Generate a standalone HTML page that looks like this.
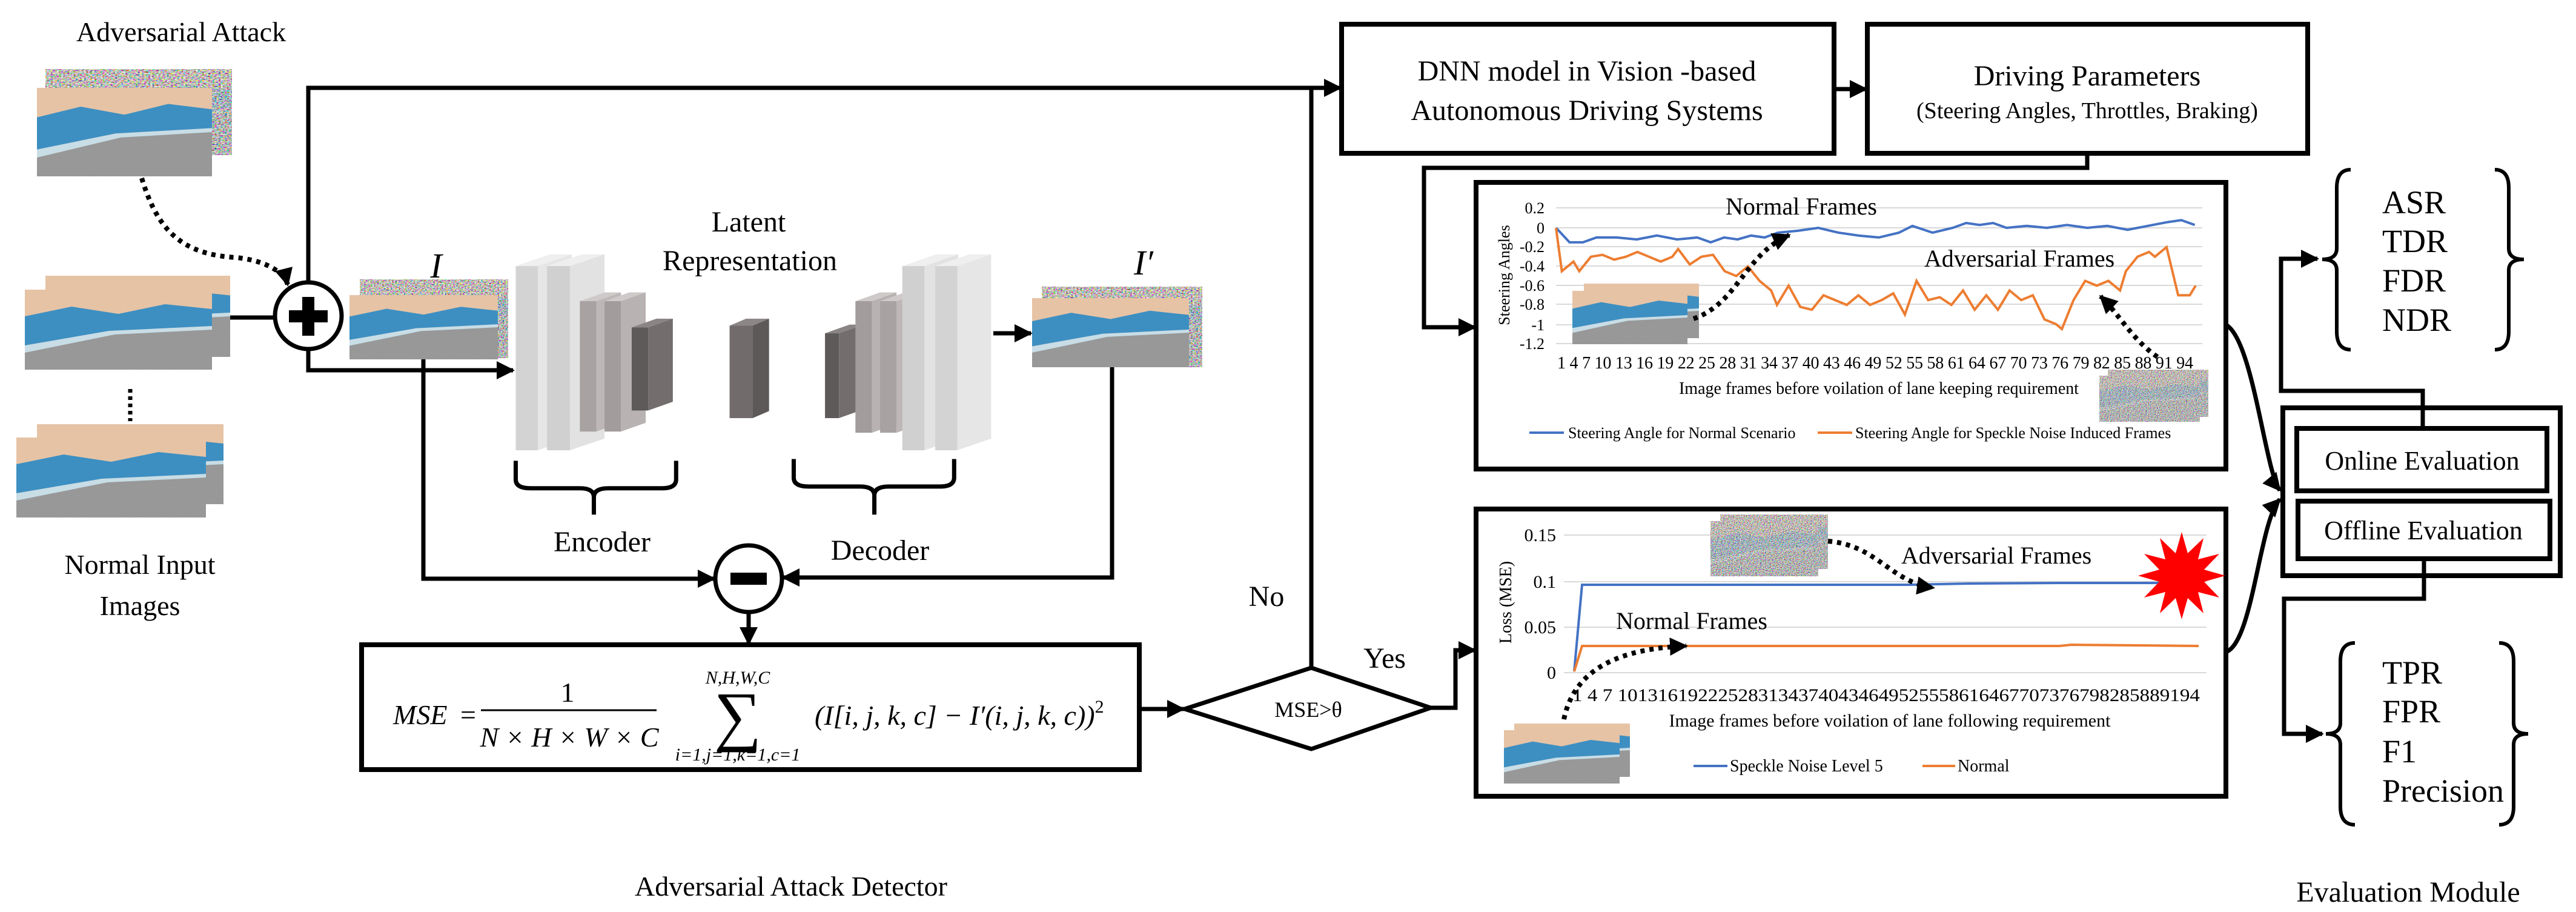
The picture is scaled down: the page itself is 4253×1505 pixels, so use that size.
<!DOCTYPE html>
<html><head><meta charset="utf-8"><style>
html,body{margin:0;padding:0;background:#fff;}
svg{display:block;}
svg, svg text{font-family:"Liberation Serif","Noto Serif CJK SC","DejaVu Serif",serif !important;}
text{fill:#000;}
</style></head><body>
<svg width="4253" height="1505" viewBox="0 0 4253 1505" xmlns="http://www.w3.org/2000/svg" font-family="Liberation Serif, Noto Serif CJK SC, DejaVu Serif, serif">
<defs>
<marker id="a" markerUnits="userSpaceOnUse" markerWidth="30" markerHeight="30" viewBox="0 0 10 10" refX="9" refY="5" orient="auto"><path d="M0,0 L10,5 L0,10 z" fill="#000"/></marker>
<filter id="nf" x="0" y="0" width="100%" height="100%"><feTurbulence type="fractalNoise" baseFrequency="0.9" numOctaves="1" seed="3"/><feColorMatrix type="matrix" values="2.2 0 0 0 -0.6  0 2.2 0 0 -0.6  0 0 2.2 0 -0.6  0 0 0 0 1"/></filter>
<filter id="gf" x="0" y="0" width="100%" height="100%"><feTurbulence type="fractalNoise" baseFrequency="1.2" numOctaves="1" seed="7"/><feColorMatrix type="matrix" values="0 0 0 0 0.3  0 0 0 0 0.3  0 0 0 0 0.3  1.2 0 0 0 -0.2"/></filter>
<symbol id="rd" viewBox="0 0 100 66" preserveAspectRatio="none">
<rect width="100" height="66" fill="#9a9a9a"/>
<rect width="100" height="66" filter="url(#gf)"/>
<rect width="100" height="24" fill="#e6c3a5"/>
<polygon points="0,22 25,14 50,20 75,12 100,16 100,30 45,34 0,46" fill="#3d8fc2"/>
<polygon points="0,46 45,34 100,30 100,33 48,37 0,52" fill="#c8dde6"/>
</symbol>
<symbol id="nz" viewBox="0 0 100 66" preserveAspectRatio="none">
<use href="#rd" width="100" height="66"/>
<rect width="100" height="66" filter="url(#nf)" opacity="0.85"/>
</symbol>
</defs>

<text x="299" y="68" font-size="46" text-anchor="middle">Adversarial Attack</text>
<text x="231" y="947" font-size="46" text-anchor="middle">Normal Input</text>
<text x="231" y="1015" font-size="46" text-anchor="middle">Images</text>

<use href="#nz" x="75" y="114" width="308" height="142"/>
<use href="#rd" x="61" y="145" width="289" height="146"/>
<use href="#rd" x="75" y="455" width="305" height="134"/>
<use href="#rd" x="41" y="478" width="309" height="132"/>
<line x1="215" y1="642" x2="215" y2="695" stroke="#000" stroke-width="7" stroke-dasharray="6 6"/>
<use href="#rd" x="61" y="700" width="308" height="132"/>
<use href="#rd" x="27" y="722" width="313" height="132"/>
<use href="#nz" x="594" y="461" width="245" height="130"/>
<use href="#rd" x="577" y="487" width="245" height="106"/>
<use href="#nz" x="1720" y="473" width="265" height="133"/>
<use href="#rd" x="1704" y="492" width="259" height="114"/>
<text x="720" y="458" font-size="58" font-style="italic" text-anchor="middle">I</text>
<text x="1888" y="453" font-size="58" font-style="italic" text-anchor="middle">I′</text>

<g fill="none" stroke="#000" stroke-width="7">
<line x1="380" y1="524" x2="454" y2="524"/>
<path d="M509,466 V145 H2213" marker-end="url(#a)"/>
<path d="M2165,1100 V145"/>
<path d="M234,294 C260,380 300,420 390,425 C440,430 470,450 475,470" stroke-width="8" stroke-dasharray="7 8" marker-end="url(#a)"/>
<path d="M509,576 V611 H847" marker-end="url(#a)"/>
<path d="M699,593 V955 H1179" marker-end="url(#a)"/>
<path d="M1836,606 V953 H1293" marker-end="url(#a)"/>
<path d="M1236,1010 V1062" marker-end="url(#a)"/>
<path d="M1881,1170 H1954" marker-end="url(#a)"/>
<path d="M1640,550 H1702" marker-end="url(#a)"/>
<path d="M2362,1168 H2403 V1073 H2435" marker-end="url(#a)"/>
<circle cx="509" cy="521" r="55" fill="#fff"/>
<circle cx="1236" cy="955" r="55" fill="#fff"/>
<rect x="597" y="1064" width="1284" height="206" stroke-width="8"/>
<polygon points="1956,1170 2165,1102 2362,1168 2165,1236" fill="#fff"/>
</g>
<rect x="477" y="512" width="64" height="20" fill="#000"/>
<rect x="499" y="490" width="20" height="64" fill="#000"/>
<rect x="1206" y="945" width="60" height="20" fill="#000"/>

<g transform="scale(1.358 0.965)" stroke="none">
<g><polygon points="627,455 668,435 695,435 654,455" fill="#efefef"/><rect x="627" y="455" width="27" height="315" fill="#d3d3d3"/><polygon points="654,455 695,435 695,750 654,770" fill="#e6e6e6"/></g>
<g><polygon points="665,455 707,435 735,435 693,455" fill="#efefef"/><rect x="665" y="455" width="28" height="315" fill="#d0d0d0"/><polygon points="693,455 735,435 735,750 693,770" fill="#e2e2e2"/></g>
<g><polygon points="705,515 735,500 755,500 725,515" fill="#cfc9c9"/><rect x="705" y="515" width="20" height="223" fill="#a8a2a2"/><polygon points="725,515 755,500 755,723 725,738" fill="#bdb7b7"/></g>
<g><polygon points="735,515 765,500 785,500 755,515" fill="#cfc9c9"/><rect x="735" y="515" width="20" height="223" fill="#a29c9c"/><polygon points="755,515 785,500 785,723 755,738" fill="#b8b2b2"/></g>
<g><polygon points="768,560 798,545 818,545 788,560" fill="#8a8484"/><rect x="768" y="560" width="20" height="142" fill="#5e5a5a"/><polygon points="788,560 818,545 818,687 788,702" fill="#736d6d"/></g>
<g><polygon points="887,557 907,545 935,545 915,557" fill="#8d8686"/><rect x="887" y="557" width="28" height="158" fill="#716b6b"/><polygon points="915,557 935,545 935,703 915,715" fill="#5e5959"/></g>
<g><polygon points="1003,570 1033,555 1050,555 1020,570" fill="#8a8484"/><rect x="1003" y="570" width="17" height="145" fill="#5e5a5a"/><polygon points="1020,570 1050,555 1050,700 1020,715" fill="#736d6d"/></g>
<g><polygon points="1040,515 1070,500 1090,500 1060,515" fill="#cfc9c9"/><rect x="1040" y="515" width="20" height="225" fill="#a29c9c"/><polygon points="1060,515 1090,500 1090,725 1060,740" fill="#b8b2b2"/></g>
<g><polygon points="1070,515 1100,500 1120,500 1090,515" fill="#cfc9c9"/><rect x="1070" y="515" width="20" height="225" fill="#a8a2a2"/><polygon points="1090,515 1120,500 1120,725 1090,740" fill="#bdb7b7"/></g>
<g><polygon points="1097,455 1138,435 1165,435 1124,455" fill="#efefef"/><rect x="1097" y="455" width="27" height="315" fill="#d0d0d0"/><polygon points="1124,455 1165,435 1165,750 1124,770" fill="#e2e2e2"/></g>
<g><polygon points="1137,455 1178,435 1205,435 1164,455" fill="#efefef"/><rect x="1137" y="455" width="27" height="315" fill="#d3d3d3"/><polygon points="1164,455 1205,435 1205,750 1164,770" fill="#e6e6e6"/></g>
<path d="M627 788 L627 820 Q627 835 645 835 L705 835 Q722 835 722 850 L722 880 M722 850 Q722 835 740 835 L805 835 Q822 835 822 820 L822 788" fill="none" stroke="#000" stroke-width="7" vector-effect="non-scaling-stroke"/>
<path d="M965 785 L965 817 Q965 832 983 832 L1045 832 Q1063 832 1063 847 L1063 880 M1063 847 Q1063 832 1081 832 L1143 832 Q1160 832 1160 817 L1160 785" fill="none" stroke="#000" stroke-width="7" vector-effect="non-scaling-stroke"/>
</g>
<text x="1236" y="382" font-size="48" text-anchor="middle">Latent</text>
<text x="1238" y="446" font-size="48" text-anchor="middle">Representation</text>
<text x="994" y="910" font-size="48" text-anchor="middle">Encoder</text>
<text x="1453" y="924" font-size="48" text-anchor="middle">Decoder</text>
<text x="1306" y="1478" font-size="46" text-anchor="middle">Adversarial Attack Detector</text>

<text x="649" y="1195" font-size="46" font-style="italic">MSE</text>
<text x="760" y="1195" font-size="46">=</text>
<text x="937" y="1158" font-size="46" text-anchor="middle">1</text>
<line x1="794" y1="1172" x2="1084" y2="1172" stroke="#000" stroke-width="3"/>
<text x="940" y="1232" font-size="46" text-anchor="middle" font-style="italic">N × H × W × C</text>
<text x="1218" y="1128" font-size="30" text-anchor="middle" font-style="italic">N,H,W,C</text>
<text x="1218" y="1218" font-size="110" text-anchor="middle">∑</text>
<text x="1218" y="1255" font-size="30" text-anchor="middle" font-style="italic">i=1,j=1,k=1,c=1</text>
<text x="1345" y="1196" font-size="46" font-style="italic">(I[i, j, k, c] − I′(i, j, k, c))<tspan font-size="30" dy="-20" font-style="normal">2</tspan></text>
<text x="2160" y="1183" font-size="36" text-anchor="middle">MSE&gt;θ</text>
<text x="2091" y="1000" font-size="48" text-anchor="middle">No</text>
<text x="2286" y="1102" font-size="48" text-anchor="middle">Yes</text>

<g fill="none" stroke="#000" stroke-width="8">
<rect x="2215" y="40" width="813" height="213"/>
<rect x="3083" y="40" width="727" height="213"/>
</g>
<g fill="none" stroke="#000" stroke-width="7">
<path d="M3028,147 H3081" marker-end="url(#a)"/>
<path d="M3446,253 V277 H2351 V540 H2435" marker-end="url(#a)"/>
</g>
<text x="2620" y="133" font-size="48" text-anchor="middle">DNN model in Vision -based</text>
<text x="2620" y="198" font-size="48" text-anchor="middle">Autonomous Driving Systems</text>
<text x="3446" y="141" font-size="48" text-anchor="middle">Driving Parameters</text>
<text x="3446" y="195" font-size="38" text-anchor="middle">(Steering Angles, Throttles, Braking)</text>

<rect x="2437" y="301" width="1238" height="473" fill="#fff" stroke="#000" stroke-width="8"/>
<g stroke="#d9d9d9" stroke-width="2">
<line x1="2569" y1="343" x2="3636" y2="343"/><line x1="2569" y1="376" x2="3636" y2="376"/><line x1="2569" y1="407" x2="3636" y2="407"/><line x1="2569" y1="439" x2="3636" y2="439"/><line x1="2569" y1="471" x2="3636" y2="471"/><line x1="2569" y1="502" x2="3636" y2="502"/><line x1="2569" y1="536" x2="3636" y2="536"/><line x1="2569" y1="567" x2="3636" y2="567"/>
</g>
<g font-size="26" text-anchor="end">
<text x="2550" y="352">0.2</text><text x="2550" y="385">0</text><text x="2550" y="416">-0.2</text><text x="2550" y="448">-0.4</text><text x="2550" y="480">-0.6</text><text x="2550" y="511">-0.8</text><text x="2550" y="545">-1</text><text x="2550" y="576">-1.2</text>
</g>
<text transform="translate(2492 454) rotate(-90)" font-size="26" text-anchor="middle">Steering Angles</text>
<text x="2571" y="608" font-size="28" textLength="1050" lengthAdjust="spacing">1 4 7 10 13 16 19 22 25 28 31 34 37 40 43 46 49 52 55 58 61 64 67 70 73 76 79 82 85 88 91 94</text>
<text x="3102" y="650" font-size="28" text-anchor="middle">Image frames before voilation of lane keeping requirement</text>
<line x1="2525" y1="714" x2="2582" y2="714" stroke="#4472c4" stroke-width="4"/>
<text x="2589" y="723" font-size="26">Steering Angle for Normal Scenario</text>
<line x1="3001" y1="714" x2="3058" y2="714" stroke="#ed7d31" stroke-width="4"/>
<text x="3063" y="723" font-size="26">Steering Angle for Speckle Noise Induced Frames</text>
<g transform="translate(2558 376) scale(11.1 -159)" fill="none">
<polyline vector-effect="non-scaling-stroke" stroke="#4472c4" stroke-width="4" points="1,0 3,-0.15 5,-0.15 7,-0.1 10,-0.1 13,-0.12 16,-0.08 19,-0.12 22,-0.1 24,-0.15 26,-0.1 28,-0.12 30,-0.08 32,-0.1 34,-0.05 37,-0.03 40,0 43,-0.05 46,-0.08 49,-0.1 52,-0.05 54,0.02 57,-0.05 60,0 62,0.05 64,0.03 66,0.05 68,0 71,0.02 74,0 77,0.03 80,0 83,0.02 86,-0.02 89,0.02 92,0.06 94,0.08 96,0.03"/>
</g>
<g transform="translate(2559.4 376) scale(9.6 -159)" fill="none">
<polyline vector-effect="non-scaling-stroke" stroke="#ed7d31" stroke-width="4" points="1,0 2,-0.45 4,-0.35 5,-0.45 7,-0.3 9,-0.28 11,-0.33 13,-0.3 15,-0.25 17,-0.3 19,-0.35 21,-0.3 22,-0.22 24,-0.38 26,-0.3 28,-0.28 30,-0.45 32,-0.5 34,-0.4 36,-0.55 38,-0.65 39,-0.8 41,-0.6 43,-0.82 45,-0.85 47,-0.7 49,-0.75 51,-0.8 53,-0.7 55,-0.8 57,-0.75 59,-0.68 61,-0.9 63,-0.55 65,-0.75 67,-0.72 69,-0.8 71,-0.65 73,-0.85 75,-0.7 77,-0.85 79,-0.65 81,-0.75 83,-0.7 85,-0.95 87,-1.0 88,-1.05 90,-0.75 92,-0.55 94,-0.6 96,-0.55 98,-0.65 99,-0.45 101,-0.3 103,-0.25 104,-0.3 106,-0.2 108,-0.7 110,-0.7 111,-0.6"/>
</g>
<use href="#rd" x="2615" y="468" width="190" height="90"/>
<use href="#rd" x="2596" y="480" width="190" height="88"/>
<use href="#nz" x="3480" y="610" width="166" height="78"/>
<use href="#nz" x="3466" y="620" width="166" height="76"/>
<text x="2974" y="354" font-size="40" text-anchor="middle">Normal Frames</text>
<text x="3334" y="440" font-size="40" text-anchor="middle">Adversarial Frames</text>
<g fill="none" stroke="#000" stroke-width="8" stroke-dasharray="7 8">
<path d="M2796,526 C2870,500 2880,420 2954,388" marker-end="url(#a)"/>
<path d="M3562,589 C3520,560 3500,520 3468,489" marker-end="url(#a)"/>
</g>

<rect x="2437" y="840" width="1238" height="474" fill="#fff" stroke="#000" stroke-width="8"/>
<g stroke="#d9d9d9" stroke-width="2">
<line x1="2582" y1="883" x2="3643" y2="883"/><line x1="2582" y1="960" x2="3643" y2="960"/><line x1="2582" y1="1035" x2="3643" y2="1035"/><line x1="2582" y1="1110" x2="3643" y2="1110"/>
</g>
<g font-size="30" text-anchor="end">
<text x="2569" y="893">0.15</text><text x="2569" y="970">0.1</text><text x="2569" y="1045">0.05</text><text x="2569" y="1120">0</text>
</g>
<text transform="translate(2495 994) rotate(-90)" font-size="28" text-anchor="middle">Loss (MSE)</text>
<text x="2596" y="1157" font-size="30" textLength="1036" lengthAdjust="spacingAndGlyphs">1 4 7 1013161922252831343740434649525558616467707376798285889194</text>
<text x="3120" y="1199" font-size="30" text-anchor="middle">Image frames before voilation of lane following requirement</text>
<line x1="2796" y1="1264" x2="2852" y2="1264" stroke="#4472c4" stroke-width="4"/>
<text x="2856" y="1273" font-size="28">Speckle Noise Level 5</text>
<line x1="3174" y1="1264" x2="3228" y2="1264" stroke="#ed7d31" stroke-width="4"/>
<text x="3232" y="1273" font-size="28">Normal</text>
<polyline fill="none" stroke="#4472c4" stroke-width="4" points="2599,1108 2612,965 3150,965 3250,963 3400,962 3630,962"/>
<polyline fill="none" stroke="#ed7d31" stroke-width="4" points="2599,1108 2612,1066 3400,1066 3420,1064 3630,1066"/>
<use href="#nz" x="2840" y="849" width="178" height="90"/>
<use href="#nz" x="2824" y="860" width="178" height="91"/>
<use href="#rd" x="2500" y="1194" width="191" height="88"/>
<use href="#rd" x="2483" y="1205" width="191" height="88"/>
<text x="3296" y="930" font-size="40" text-anchor="middle">Adversarial Frames</text>
<text x="2793" y="1038" font-size="40" text-anchor="middle">Normal Frames</text>
<g fill="none" stroke="#000" stroke-width="8" stroke-dasharray="7 8">
<path d="M3018,893 C3100,900 3120,960 3192,970" marker-end="url(#a)"/>
<path d="M2582,1187 C2600,1100 2680,1070 2784,1066" marker-end="url(#a)"/>
</g>
<polygon fill="#ff0000" points="3674,950 3639,960 3664,986 3629,977 3638,1012 3612,987 3602,1022 3592,987 3566,1012 3575,977 3540,986 3565,960 3530,950 3565,940 3540,914 3575,923 3566,888 3592,913 3602,878 3612,913 3638,888 3629,923 3664,914 3639,940"/>

<g fill="none" stroke="#000" stroke-width="8">
<path d="M3675,536 C3720,560 3740,780 3764,809" stroke-width="7" marker-end="url(#a)"/>
<path d="M3675,1076 C3720,1060 3730,860 3764,824" stroke-width="7" marker-end="url(#a)"/>
<rect x="3769" y="673" width="458" height="277"/>
<path d="M4000,707 V645 H3766 V427 H3826" stroke-width="7" marker-end="url(#a)"/>
<path d="M4002,922 V988 H3771 V1211 H3834" stroke-width="7" marker-end="url(#a)"/>
<rect x="3792" y="707" width="413" height="103" fill="#fff"/>
<rect x="3794" y="827" width="416" height="95" fill="#fff"/>
<path d="M3881,280 Q3858,280 3858,310 L3858,410 Q3858,428 3834,428 Q3858,428 3858,446 L3858,547 Q3858,577 3881,577" stroke-width="6"/>
<path d="M4119,280 Q4142,280 4142,310 L4142,410 Q4142,428 4167,428 Q4142,428 4142,446 L4142,547 Q4142,577 4119,577" stroke-width="6"/>
<path d="M3888,1061 Q3864,1061 3864,1091 L3864,1193 Q3864,1211 3840,1211 Q3864,1211 3864,1229 L3864,1331 Q3864,1361 3888,1361" stroke-width="6"/>
<path d="M4126,1061 Q4150,1061 4150,1091 L4150,1193 Q4150,1211 4174,1211 Q4150,1211 4150,1229 L4150,1331 Q4150,1361 4126,1361" stroke-width="6"/>
</g>
<text x="3999" y="775" font-size="44" text-anchor="middle">Online Evaluation</text>
<text x="4001" y="890" font-size="44" text-anchor="middle">Offline Evaluation</text>
<g font-size="54">
<text x="3933" y="352">ASR</text><text x="3933" y="416">TDR</text><text x="3933" y="481">FDR</text><text x="3933" y="546">NDR</text>
<text x="3933" y="1128">TPR</text><text x="3933" y="1192">FPR</text><text x="3933" y="1258">F1</text><text x="3933" y="1323">Precision</text>
</g>
<text x="3976" y="1488" font-size="48" text-anchor="middle">Evaluation Module</text>
</svg>
</body></html>
